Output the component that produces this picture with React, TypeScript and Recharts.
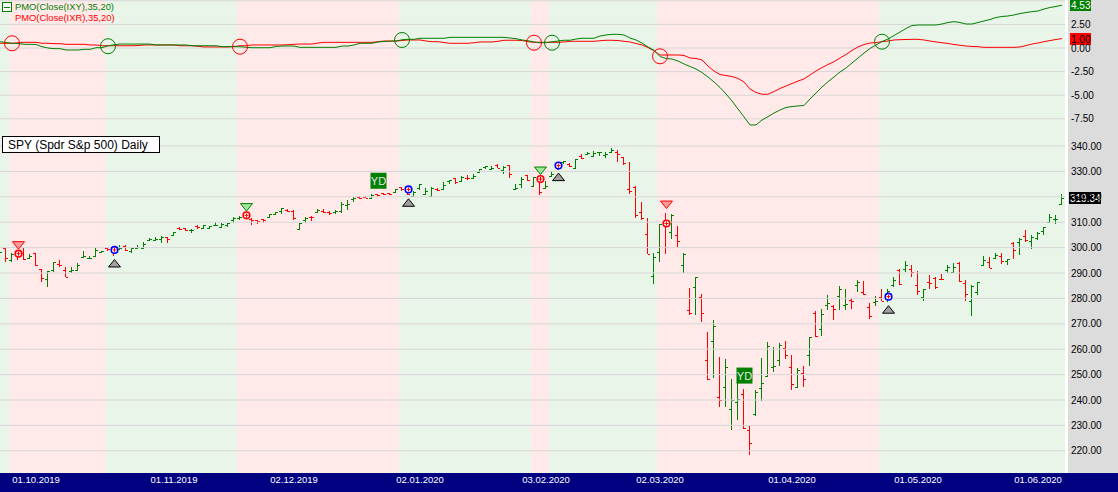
import { ComposedChart, Bar, Line, XAxis, YAxis, ReferenceArea, ReferenceLine, ReferenceDot } from 'recharts';

const FONT = '"Liberation Sans", Arial, sans-serif';
const GREEN = '#008000';
const RED = '#ff0000';
const UP_BG = '#eaf5ea';
const DOWN_BG = '#ffe9e9';
const GRID = '#d6d6d6';

// trading days shown on the chart, per month
const MONTH_DAYS: [string, number[]][] = [
  ['09.2019', [23, 24, 25, 26, 27, 30]],
  ['10.2019', [1, 2, 3, 4, 7, 8, 9, 10, 11, 14, 15, 16, 17, 18, 21, 22, 23, 24, 25, 28, 29, 30, 31]],
  ['11.2019', [1, 4, 5, 6, 7, 8, 11, 12, 13, 14, 15, 18, 19, 20, 21, 22, 25, 26, 27, 29]],
  ['12.2019', [2, 3, 4, 5, 6, 9, 10, 11, 12, 13, 16, 17, 18, 19, 20, 23, 24, 26, 27, 30, 31]],
  ['01.2020', [2, 3, 6, 7, 8, 9, 10, 13, 14, 15, 16, 17, 21, 22, 23, 24, 27, 28, 29, 30, 31]],
  ['02.2020', [3, 4, 5, 6, 7, 10, 11, 12, 13, 14, 18, 19, 20, 21, 24, 25, 26, 27, 28]],
  ['03.2020', [2, 3, 4, 5, 6, 9, 10, 11, 12, 13, 16, 17, 18, 19, 20, 23, 24, 25, 26, 27, 30, 31]],
  ['04.2020', [1, 2, 3, 6, 7, 8, 9, 13, 14, 15, 16, 17, 20, 21, 22, 23, 24, 27, 28, 29, 30]],
  ['05.2020', [1, 4, 5, 6, 7, 8, 11, 12, 13, 14, 15, 18, 19, 20, 21, 22, 26, 27, 28, 29]],
  ['06.2020', [1, 2, 3, 4, 5]],
];
const DATES = MONTH_DAYS.flatMap(([m, days]) => days.map((d) => `${d < 10 ? '0' : ''}${d}.${m}`));

const TICK_DATES = ['01.10.2019', '01.11.2019', '02.12.2019', '02.01.2020', '03.02.2020', '02.03.2020', '01.04.2020', '01.05.2020', '01.06.2020'];

const OPEN = [
  297.9, 299.8, 295.2, 297.6, 298.0, 295.9, 297.7, 291.5, 287.8, 291.1, 293.6, 291.0, 290.7, 291.2, 296.3, 295.9, 296.8, 298.2, 300.0, 299.1,
  299.4, 300.6, 298.7, 300.0, 299.7, 303.0, 303.0, 303.4, 304.1, 304.9, 307.8, 307.6, 306.9, 308.6, 307.8, 307.8, 308.8, 308.0, 308.8, 310.9,
  311.5, 312.7, 311.3, 310.9, 311.1, 311.9, 313.4, 314.6, 314.9, 314.6, 307.5, 310.7, 312.2, 314.1, 314.4, 314.0, 314.0, 314.4, 316.9, 319.0,
  320.1, 320.0, 319.6, 321.0, 321.6, 321.4, 321.7, 323.7, 322.9, 320.5, 323.5, 321.2, 320.5, 323.0, 322.9, 326.2, 327.3, 326.4, 327.5, 327.4,
  329.7, 331.7, 330.9, 332.6, 330.6, 332.4, 323.0, 325.1, 328.4, 324.4, 327.0, 323.4, 328.1, 332.3, 333.9, 332.8, 331.2, 336.2, 336.8, 335.9,
  337.5, 336.5, 337.8, 337.7, 335.5, 323.1, 323.9, 314.2, 305.5, 288.7, 298.2, 309.5, 306.1, 305.0, 293.2, 275.3, 284.6, 280.7, 255.9, 263.1,
  241.2, 245.0, 236.3, 239.3, 242.5, 228.2, 234.4, 244.9, 249.5, 252.8, 255.7, 260.6, 252.8, 245.2, 250.8, 257.8, 274.2, 268.0, 277.6, 277.1,
  281.0, 277.6, 279.2, 285.4, 282.6, 276.7, 278.4, 280.5, 280.7, 285.1, 291.0, 291.5, 291.7, 285.3, 280.7, 286.6, 288.0, 287.8, 291.1, 290.3,
  293.8, 286.1, 279.0, 282.4, 293.1, 294.4, 295.8, 296.8, 294.6, 301.9, 302.1, 304.7, 302.5, 303.6, 306.6, 310.2, 311.1, 317.2,
];
const HIGH = [
  299.2, 300.0, 298.0, 297.8, 299.8, 297.5, 298.0, 291.6, 290.8, 294.5, 295.1, 292.5, 292.3, 294.0, 298.8, 296.7, 299.8, 298.8, 300.4, 299.4,
  301.0, 301.0, 300.0, 301.0, 302.2, 303.9, 304.0, 304.5, 304.3, 306.3, 308.0, 307.9, 307.3, 309.0, 309.0, 308.5, 310.1, 309.5, 309.7, 311.9,
  312.3, 312.8, 311.5, 311.0, 311.2, 313.4, 314.1, 315.5, 315.1, 314.8, 309.6, 312.0, 312.3, 315.3, 315.2, 314.6, 314.7, 318.0, 318.7, 320.0,
  320.2, 320.3, 321.0, 321.2, 321.6, 321.5, 323.0, 323.8, 323.1, 322.1, 324.9, 323.6, 323.7, 323.5, 325.8, 326.7, 327.5, 328.0, 328.6, 329.0,
  330.9, 332.0, 332.2, 332.9, 332.0, 332.6, 325.1, 327.9, 328.6, 327.9, 327.2, 326.2, 330.0, 333.1, 334.2, 333.2, 334.8, 337.0, 337.7, 338.1,
  337.7, 337.7, 339.1, 338.6, 335.8, 333.6, 324.3, 318.1, 311.6, 297.9, 309.2, 313.8, 313.1, 308.5, 297.8, 284.2, 288.5, 281.9, 266.7, 271.5,
  256.9, 256.2, 248.4, 247.4, 244.5, 229.7, 244.1, 256.4, 262.8, 260.8, 262.4, 263.3, 257.7, 252.7, 253.3, 264.9, 275.0, 276.0, 281.2, 277.5,
  284.9, 283.9, 280.0, 287.3, 286.8, 278.0, 281.0, 283.9, 283.7, 288.3, 291.4, 294.9, 293.3, 290.7, 283.9, 289.3, 288.5, 289.8, 293.0, 294.0,
  294.2, 287.2, 285.1, 286.3, 296.8, 296.2, 297.9, 297.7, 295.6, 302.2, 303.6, 306.8, 305.0, 306.2, 308.1, 313.2, 313.0, 321.3,
];
const LOW = [
  297.6, 294.3, 294.4, 295.3, 295.0, 295.6, 292.6, 286.6, 284.6, 290.5, 292.5, 288.5, 290.0, 291.0, 295.8, 295.5, 296.7, 298.0, 298.8, 296.7,
  299.1, 298.8, 298.0, 299.4, 299.4, 302.9, 302.8, 301.9, 301.7, 304.6, 306.9, 306.6, 305.6, 307.4, 307.2, 307.4, 308.4, 307.9, 308.1, 309.8,
  310.9, 311.2, 308.9, 309.3, 309.7, 311.6, 312.9, 313.3, 314.0, 310.8, 306.9, 309.8, 310.6, 313.9, 313.8, 312.8, 313.4, 313.7, 315.0, 317.9,
  319.3, 319.5, 319.4, 320.1, 320.9, 320.9, 321.6, 322.3, 320.6, 320.2, 322.5, 321.1, 320.4, 322.2, 322.7, 325.1, 325.2, 325.9, 326.8, 327.3,
  329.5, 330.9, 330.8, 331.2, 329.1, 327.4, 322.7, 323.6, 326.4, 323.8, 320.7, 323.2, 327.7, 330.7, 332.8, 331.6, 331.2, 334.7, 336.4, 335.6,
  336.2, 335.2, 337.5, 333.6, 332.6, 321.2, 311.5, 310.7, 297.5, 285.5, 294.5, 297.6, 303.3, 300.0, 289.9, 273.5, 273.5, 270.9, 247.7, 248.5,
  237.4, 237.1, 228.0, 232.2, 228.5, 218.3, 233.8, 239.8, 249.1, 251.1, 253.5, 256.2, 243.9, 244.6, 245.2, 253.4, 264.9, 265.3, 275.5, 271.4,
  275.5, 275.5, 275.8, 282.4, 281.4, 272.0, 276.9, 278.8, 278.5, 284.6, 285.4, 290.4, 288.6, 281.5, 279.1, 283.7, 283.8, 287.1, 289.9, 289.9,
  286.5, 279.0, 273.0, 281.3, 292.7, 292.0, 295.6, 293.7, 293.2, 295.5, 296.9, 302.2, 299.5, 303.1, 305.1, 309.9, 309.1, 317.2,
];
const CLOSE = [
  298.4, 295.9, 297.6, 297.0, 295.4, 296.8, 293.2, 288.1, 290.7, 294.4, 293.1, 288.5, 291.3, 293.2, 296.5, 296.0, 298.9, 298.5, 299.3, 298.0,
  300.0, 299.0, 299.9, 300.4, 301.6, 303.3, 303.2, 304.1, 303.3, 306.1, 307.4, 307.0, 307.1, 308.2, 309.0, 308.4, 309.0, 309.1, 309.6, 311.8,
  312.0, 311.9, 310.7, 310.3, 311.0, 313.4, 314.1, 315.5, 314.3, 311.6, 309.5, 311.5, 312.0, 314.9, 313.9, 313.5, 314.4, 317.1, 317.3, 319.5,
  319.6, 319.6, 320.9, 320.7, 321.2, 321.2, 322.9, 322.9, 321.1, 321.9, 324.9, 322.4, 323.6, 322.7, 324.5, 326.6, 325.7, 327.9, 327.4, 328.2,
  330.9, 332.0, 331.3, 331.3, 331.7, 328.8, 323.5, 326.9, 326.6, 327.7, 321.7, 324.1, 329.1, 332.9, 334.0, 332.2, 334.7, 335.3, 337.4, 337.1,
  337.6, 336.7, 338.3, 337.0, 333.5, 322.4, 312.7, 311.5, 297.5, 296.3, 309.1, 300.2, 312.9, 302.5, 297.5, 274.2, 288.4, 274.4, 248.1, 269.3,
  239.9, 252.8, 240.0, 240.5, 228.8, 223.0, 243.2, 246.8, 261.2, 253.4, 261.7, 257.8, 246.2, 251.8, 248.2, 264.9, 265.1, 274.0, 278.2, 275.7,
  283.8, 277.8, 279.1, 286.6, 281.6, 273.0, 279.1, 279.1, 283.0, 287.1, 285.7, 293.2, 290.5, 282.8, 283.6, 286.2, 284.3, 287.7, 292.4, 292.5,
  286.7, 281.6, 285.0, 286.3, 295.0, 292.0, 296.9, 294.9, 295.4, 299.1, 303.5, 303.0, 304.3, 305.6, 308.1, 312.2, 311.4, 319.34,
];

const PMO_IXY = [
  0.67, 0.58, 0.5, 0.48, 0.39, 0.39, 0.37, 0.14, 0.0, -0.07, -0.07, -0.21, -0.21, -0.21, -0.14, -0.14, 0.03, 0.03, 0.23, 0.34,
  0.42, 0.42, 0.42, 0.42, 0.42, 0.42, 0.32, 0.32, 0.32, 0.32, 0.32, 0.32, 0.24, 0.24, 0.24, 0.24, 0.24, 0.14, 0.14, 0.14,
  0.14, 0.08, 0.03, 0.03, 0.03, 0.03, 0.16, 0.21, 0.21, 0.21, 0.07, 0.07, 0.07, 0.07, 0.07, 0.07, 0.07, 0.21, 0.21, 0.32,
  0.5, 0.5, 0.5, 0.64, 0.69, 0.72, 0.74, 0.87, 0.92, 0.92, 1.03, 1.03, 1.03, 1.03, 1.03, 1.13, 1.13, 1.13, 1.13, 1.13,
  1.13, 1.13, 1.13, 1.13, 1.13, 1.06, 0.99, 0.85, 0.77, 0.64, 0.55, 0.57, 0.66, 0.74, 0.82, 0.82, 0.95, 1.03, 1.03, 1.03,
  1.27, 1.38, 1.45, 1.45, 1.38, 1.06, 0.85, 0.53, 0.11, -0.24, -0.9, -1.11, -1.17, -1.38, -1.69, -1.96, -2.22, -2.6, -3.07, -3.6,
  -4.18, -4.87, -5.61, -6.46, -7.3, -8.15, -8.15, -7.63, -7.27, -6.89, -6.57, -6.3, -6.2, -6.14, -6.09, -5.4, -4.77, -4.13, -3.57, -3.07,
  -2.54, -2.12, -1.59, -1.06, -0.53, -0.05, 0.32, 0.69, 0.95, 1.32, 1.69, 2.07, 2.38, 2.44, 2.44, 2.44, 2.44, 2.54, 2.7, 2.79,
  2.7, 2.54, 2.54, 2.7, 2.86, 3.02, 3.23, 3.34, 3.39, 3.5, 3.65, 3.76, 3.85, 3.92, 4.13, 4.29, 4.4, 4.53,
];
const PMO_IXR = [
  0.5, 0.5, 0.5, 0.55, 0.6, 0.6, 0.6, 0.5, 0.5, 0.46, 0.46, 0.39, 0.39, 0.39, 0.39, 0.32, 0.32, 0.24, 0.24, 0.24,
  0.24, 0.24, 0.24, 0.26, 0.32, 0.32, 0.32, 0.32, 0.32, 0.32, 0.24, 0.24, 0.24, 0.18, 0.11, 0.11, 0.11, 0.11, 0.11, 0.16,
  0.24, 0.24, 0.32, 0.32, 0.32, 0.32, 0.32, 0.32, 0.35, 0.39, 0.42, 0.42, 0.42, 0.53, 0.6, 0.6, 0.6, 0.6, 0.6, 0.6,
  0.6, 0.6, 0.6, 0.67, 0.74, 0.74, 0.74, 0.79, 0.85, 0.85, 0.85, 0.74, 0.67, 0.67, 0.58, 0.5, 0.5, 0.5, 0.5, 0.56,
  0.64, 0.64, 0.64, 0.71, 0.82, 0.82, 0.82, 0.79, 0.67, 0.6, 0.6, 0.6, 0.6, 0.6, 0.64, 0.71, 0.71, 0.71, 0.71, 0.71,
  0.77, 0.82, 0.82, 0.79, 0.71, 0.64, 0.48, 0.32, 0.05, -0.3, -0.74, -0.74, -0.74, -0.74, -0.79, -1.06, -1.11, -1.27, -1.91, -2.44,
  -2.81, -2.91, -3.02, -3.23, -3.6, -4.34, -4.71, -4.9, -4.9, -4.61, -4.29, -4.03, -3.76, -3.5, -3.28, -2.86, -2.44, -2.07, -1.75, -1.45,
  -1.06, -0.69, -0.26, 0.11, 0.37, 0.53, 0.58, 0.67, 0.74, 0.85, 0.88, 0.9, 0.92, 0.92, 0.85, 0.74, 0.64, 0.56, 0.48, 0.37,
  0.29, 0.21, 0.16, 0.14, 0.07, 0.07, 0.07, 0.07, 0.07, 0.07, 0.11, 0.26, 0.42, 0.53, 0.67, 0.79, 0.9, 1.0,
];

// background regimes: first and last bar index, bullish or not
const BANDS: [number, number, boolean][] = [
  [0, 1, true], [2, 17, false], [18, 39, true], [40, 66, false], [67, 88, true],
  [89, 91, false], [92, 109, true], [110, 146, false], [147, 177, true],
];

// PMO crossover circles
const CROSSES: { i: number; v: number; up: boolean }[] = [
  { i: 2, v: 0.5, up: false }, { i: 18, v: 0.19, up: true }, { i: 40, v: 0.14, up: false },
  { i: 67, v: 0.85, up: true }, { i: 89, v: 0.56, up: false }, { i: 92, v: 0.56, up: true },
  { i: 110, v: -0.88, up: false }, { i: 147, v: 0.67, up: true },
];

// price signals
const SELLS: { i: number; tri: 'red' | 'green' }[] = [
  { i: 3, tri: 'red' }, { i: 41, tri: 'green' }, { i: 90, tri: 'green' }, { i: 111, tri: 'red' },
];
const BUYS = [19, 68, 93, 148];
const YD = [63, 124];

const PMO_TICKS = [-7.5, -5, -2.5, 0, 2.5, 5];
const PRICE_TICKS = [220, 230, 240, 250, 260, 270, 280, 290, 300, 310, 320, 330, 340];

const rows = DATES.map((date, i) => ({
  date,
  o: OPEN[i],
  h: HIGH[i],
  l: LOW[i],
  c: CLOSE[i],
  ixy: PMO_IXY[i],
  ixr: PMO_IXR[i],
}));

const last = rows.length - 1;

const OhlcShape = (props: any) => {
  const { x, y, width, height, payload } = props;
  if (x == null || payload == null) return <g />;
  const top = Math.min(y, y + height);
  const bottom = Math.max(y, y + height);
  const span = payload.h - payload.l || 1;
  const py = (v: number) => top + ((payload.h - v) / span) * (bottom - top);
  const cx = Math.floor(x + width / 2) + 0.5;
  const color = payload.c >= payload.o ? GREEN : RED;
  const t = Math.round(top);
  const b = Math.max(t + 1, Math.round(bottom));
  const yo = Math.round(py(payload.o)) + 0.5;
  const yc = Math.round(py(payload.c)) + 0.5;
  return (
    <path
      d={`M${cx},${t}V${b}M${cx - 2.5},${yo}H${cx}M${cx},${yc}H${cx + 2.5}`}
      stroke={color}
      strokeWidth={1}
      fill="none"
      shapeRendering="crispEdges"
    />
  );
};

const axisTick = (hideAbove: number) => (props: any) => {
  const { x, y, payload } = props;
  if (payload.value > hideAbove) return <g />;
  return (
    <text x={x} y={y + 3.5} fontSize={10} fill="#000" fontFamily={FONT}>
      {Number(payload.value).toFixed(2)}
    </text>
  );
};

const DateTick = (props: any) => {
  const { x, y, payload } = props;
  return (
    <text x={x} y={y + 9.5} fontSize={9.5} fill="#fff" textAnchor="middle" fontFamily={FONT}>
      {payload.value}
    </text>
  );
};

const valueTag = (text: string, bg: string, fg: string, w: number, dx: number) => (p: any) => (
  <g>
    <rect x={p.cx + dx} y={Math.round(p.cy) - 6} width={w} height={12} fill={bg} />
    <text x={p.cx + dx + 1} y={Math.round(p.cy) + 4} fontSize={10} fill={fg} fontFamily={FONT}>
      {text}
    </text>
  </g>
);

const crossShape = (up: boolean) => (p: any) => (
  <circle cx={p.cx} cy={p.cy} r={7.5} fill="none" stroke={up ? GREEN : RED} strokeWidth={1} />
);

const downTri = (color: 'red' | 'green') => (p: any) => (
  <polygon
    points={`${p.cx - 5.5},${p.cy - 11.5} ${p.cx + 6.5},${p.cy - 11.5} ${p.cx + 0.5},${p.cy - 4}`}
    fill={color === 'red' ? '#ff9c9c' : '#9de89d'}
    stroke={color === 'red' ? RED : GREEN}
    strokeWidth={1}
  />
);

const upTri = (p: any) => (
  <polygon
    points={`${p.cx - 5.5},${p.cy + 11} ${p.cx + 6.5},${p.cy + 11} ${p.cx + 0.5},${p.cy + 3.5}`}
    fill="#a0a0a0"
    stroke="#000"
    strokeWidth={1}
  />
);

const ringShape = (ring: string) => (p: any) => (
  <g>
    <circle cx={p.cx + 0.5} cy={p.cy} r={3.3} fill="#fff" stroke={ring} strokeWidth={1.6} />
    <line x1={p.cx - 1.5} x2={p.cx + 2.5} y1={p.cy} y2={p.cy} stroke={RED} strokeWidth={1} />
    <line x1={p.cx + 0.5} x2={p.cx + 0.5} y1={p.cy - 2} y2={p.cy + 2} stroke={RED} strokeWidth={1} />
  </g>
);

const ydShape = (p: any) => (
  <g>
    <rect x={p.cx - 7.5} y={p.cy - 21} width={16} height={16} fill={GREEN} />
    <text x={p.cx + 0.5} y={p.cy - 8.5} fontSize={11} fill="#e6e6e6" textAnchor="middle" fontFamily={FONT}>
      YD
    </text>
  </g>
);

const bandAreas = () =>
  BANDS.map(([a, b, up]) => (
    <ReferenceArea
      key={`band-${a}`}
      x1={DATES[a]}
      x2={DATES[b]}
      fill={up ? UP_BG : DOWN_BG}
      fillOpacity={1}
      stroke="none"
      ifOverflow="visible"
    />
  ));

export default function App() {
  return (
    <div
      style={{
        position: 'absolute',
        left: 0,
        top: 0,
        width: 1118,
        height: 492,
        background: '#fff',
        overflow: 'hidden',
        fontFamily: FONT,
      }}
    >
      <div style={{ position: 'absolute', left: 1068, top: 0, width: 50, height: 473, background: '#dcdcdc' }} />
      <div style={{ position: 'absolute', left: 0, top: 473, width: 1118, height: 19, background: '#000080' }} />

      <div style={{ position: 'absolute', left: -3, top: 0 }}>
        <ComposedChart width={1121} height={131} data={rows} margin={{ top: 0, right: 0, bottom: 0, left: 0 }}>
          <XAxis dataKey="date" hide scale="band" />
          <YAxis
            orientation="right"
            width={53}
            domain={[-8.792, 5.085]}
            ticks={PMO_TICKS}
            allowDataOverflow
            axisLine={false}
            tickLine={false}
            tickSize={6}
            tickMargin={0}
            interval={0}
            tick={axisTick(4)}
          />
          {bandAreas()}
          {PMO_TICKS.map((v) => (
            <ReferenceLine key={`pg-${v}`} y={v} stroke={GRID} strokeWidth={1} />
          ))}
          <Line dataKey="ixr" stroke={RED} strokeWidth={1} dot={false} activeDot={false} isAnimationActive={false} />
          <Line dataKey="ixy" stroke={GREEN} strokeWidth={1} dot={false} activeDot={false} isAnimationActive={false} />
          {CROSSES.map((c) => (
            <ReferenceDot key={`cx-${c.i}`} x={DATES[c.i]} y={c.v} r={7.5} shape={crossShape(c.up)} />
          ))}
          <ReferenceDot
            x={DATES[last]}
            y={PMO_IXY[last]}
            r={1}
            shape={valueTag(PMO_IXY[last].toFixed(2), GREEN, '#fff', 21, 8)}
          />
          <ReferenceDot
            x={DATES[last]}
            y={PMO_IXR[last]}
            r={1}
            shape={valueTag(PMO_IXR[last].toFixed(2), RED, '#000', 21, 8)}
          />
        </ComposedChart>
      </div>

      <div style={{ position: 'absolute', left: -3, top: 131 }}>
        <ComposedChart
          width={1121}
          height={361}
          data={rows}
          margin={{ top: 0, right: 0, bottom: 0, left: 0 }}
          barCategoryGap={0}
        >
          <XAxis
            dataKey="date"
            height={19}
            ticks={TICK_DATES}
            interval={0}
            axisLine={false}
            tickLine={false}
            tickSize={0}
            tickMargin={0}
            tick={DateTick}
          />
          <YAxis
            orientation="right"
            width={53}
            domain={[211.26, 345.91]}
            ticks={PRICE_TICKS}
            allowDataOverflow
            axisLine={false}
            tickLine={false}
            tickSize={6}
            tickMargin={0}
            interval={0}
            tick={axisTick(1000)}
          />
          {bandAreas()}
          {PRICE_TICKS.map((v) => (
            <ReferenceLine key={`yg-${v}`} y={v} stroke={GRID} strokeWidth={1} />
          ))}
          <Bar
            dataKey={(d: any) => [d.l, d.h]}
            barSize={6}
            shape={OhlcShape}
            isAnimationActive={false}
          />
          {SELLS.map((s) => (
            <ReferenceDot key={`st-${s.i}`} x={DATES[s.i]} y={HIGH[s.i]} r={1} shape={downTri(s.tri)} />
          ))}
          {SELLS.map((s) => (
            <ReferenceDot key={`sc-${s.i}`} x={DATES[s.i]} y={OPEN[s.i]} r={1} shape={ringShape(RED)} />
          ))}
          {BUYS.map((i) => (
            <ReferenceDot key={`bt-${i}`} x={DATES[i]} y={LOW[i]} r={1} shape={upTri} />
          ))}
          {BUYS.map((i) => (
            <ReferenceDot key={`bc-${i}`} x={DATES[i]} y={OPEN[i]} r={1} shape={ringShape('#0000ff')} />
          ))}
          {YD.map((i) => (
            <ReferenceDot key={`yd-${i}`} x={DATES[i]} y={HIGH[i]} r={1} shape={ydShape} />
          ))}
          <ReferenceDot
            x={DATES[last]}
            y={CLOSE[last]}
            r={1}
            shape={valueTag(CLOSE[last].toFixed(2), '#000', '#fff', 32, 7)}
          />
        </ComposedChart>
      </div>

      {/* legend */}
      <div style={{ position: 'absolute', left: 2, top: 2, width: 8, height: 8, border: `1px solid ${GREEN}`, background: '#fff' }}>
        <div style={{ position: 'absolute', left: 1, top: 3.5, width: 6, height: 1, background: GREEN }} />
      </div>
      <div style={{ position: 'absolute', left: 15, top: 1, fontSize: 9.4, lineHeight: '11px', color: GREEN, whiteSpace: 'nowrap' }}>
        PMO(Close(IXY),35,20)
      </div>
      <div style={{ position: 'absolute', left: 15, top: 12, fontSize: 9.4, lineHeight: '11px', color: RED, whiteSpace: 'nowrap' }}>
        PMO(Close(IXR),35,20)
      </div>

      {/* title box */}
      <div
        style={{
          position: 'absolute',
          left: 2,
          top: 136,
          width: 158,
          height: 17,
          border: '1px solid #000',
          background: '#fff',
          fontSize: 12,
          lineHeight: '17px',
          paddingLeft: 5,
          boxSizing: 'border-box',
          whiteSpace: 'nowrap',
          color: '#000',
        }}
      >
        SPY (Spdr S&amp;p 500) Daily
      </div>
    </div>
  );
}
